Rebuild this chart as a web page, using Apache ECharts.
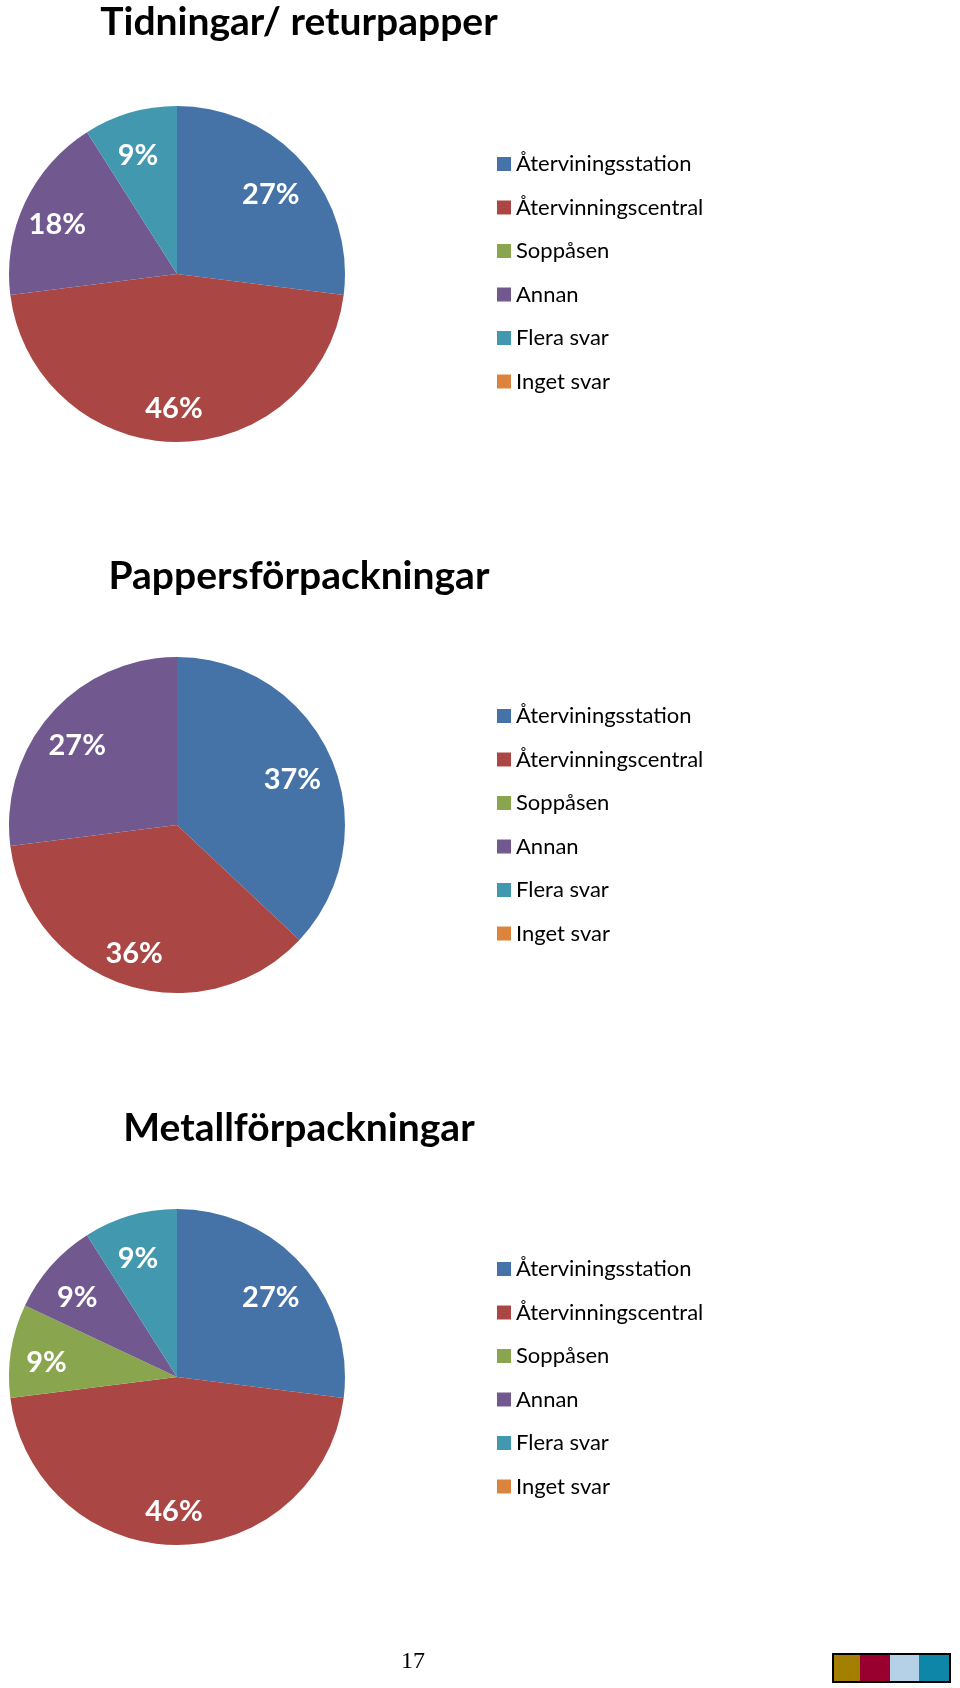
<!DOCTYPE html>
<html lang="sv">
<head>
	<meta charset="UTF-8">
	<title>Tidningar, pappers- och metallförpackningar</title>
	<style>
		html, body { margin: 0; padding: 0; background: #fff; }
	</style>
</head>
<body>
	<div id="main" style="width: 960px;height:1688px;"></div>
</body>
<script type="text/javascript" src="https://cdn.jsdelivr.net/npm/echarts@6/dist/echarts.min.js"></script>
<script type="text/javascript">
	// svarsalternativ (samma i alla tre diagrammen)
	var categories = ['Återviningsstation', 'Återvinningscentral', 'Soppåsen', 'Annan', 'Flera svar', 'Inget svar'];
	var colors = ['#4572A7', '#AA4643', '#89A54E', '#71588F', '#4198AF', '#DB843D'];

	var titles = ['Tidningar/ returpapper', 'Pappersförpackningar', 'Metallförpackningar'];

	// andel i procent, samma ordning som categories
	var tidningar = [27, 46, 0, 18, 9, 0];
	var pappers   = [37, 36, 0, 27, 0, 0];
	var metall    = [27, 46, 9, 9, 9, 0];

	var values = [tidningar, pappers, metall];

	// placering av varje diagram
	var pieCenterY = [274, 825, 1377];
	var titleTop = [3, 557, 1109];
	var legendTop = [153, 705, 1258];

	var myChart = echarts.init(document.getElementById('main'));

	var title = [], legend = [], series = [];

	for (var i = 0; i < values.length; i++) {
		var vals = values[i];

		title.push({
			text: titles[i],
			left: 299,
			top: titleTop[i],
			padding: 0,
			textAlign: 'center',
			textStyle: { fontFamily: 'Lato', fontWeight: 'bold', fontSize: 39, color: '#000' }
		});

		legend.push({
			data: categories,
			orient: 'vertical',
			left: 497,
			top: legendTop[i],
			padding: 0,
			icon: 'rect',
			itemWidth: 14,
			itemHeight: 14,
			itemGap: 21.5,
			selectedMode: false,
			textStyle: { fontFamily: 'Lato', fontSize: 22, lineHeight: 22, color: '#000' }
		});

		// själva tårtan
		series.push({
			type: 'pie',
			center: [177, pieCenterY[i]],
			radius: 168,
			startAngle: 90,
			clockwise: true,
			silent: true,
			animation: false,
			label: { show: false },
			labelLine: { show: false },
			itemStyle: { borderWidth: 0 },
			emphasis: { disabled: true },
			data: categories.map(function (name, j) {
				return { name: name, value: vals[j], itemStyle: { color: colors[j] } };
			})
		});

		// genomskinlig ring bara for etiketterna (hamnar ca 3/4 ut mot kanten)
		series.push({
			type: 'pie',
			center: [177, pieCenterY[i]],
			radius: [84, 168],
			startAngle: 90,
			clockwise: true,
			silent: true,
			animation: false,
			itemStyle: { color: 'rgba(0,0,0,0)', borderWidth: 0 },
			emphasis: { disabled: true },
			labelLine: { show: false },
			label: {
				show: true,
				position: 'inside',
				offset: [-3, 6],
				formatter: function (p) { return p.value ? p.value + '%' : ''; },
				fontFamily: 'Lato',
				fontWeight: 'bold',
				fontSize: 29,
				color: '#fff',
				textBorderWidth: 0
			},
			data: categories.map(function (name, j) {
				return { name: name, value: vals[j] };
			})
		});
	}

	myChart.setOption({
		backgroundColor: '#fff',
		animation: false,
		title: title,
		legend: legend,
		series: series,
		graphic: [
			{ type: 'text', left: 401, top: 1650, style: { text: '17', fontFamily: 'Liberation Serif', fontSize: 24, fill: '#000' } },
			{ type: 'rect', shape: { x: 832, y: 1653, width: 119, height: 30 }, style: { fill: '#000' } },
			{ type: 'rect', shape: { x: 834, y: 1655, width: 26, height: 26 }, style: { fill: '#A37F00' } },
			{ type: 'rect', shape: { x: 860, y: 1655, width: 30, height: 26 }, style: { fill: '#990030' } },
			{ type: 'rect', shape: { x: 890, y: 1655, width: 29, height: 26 }, style: { fill: '#B4D1E8' } },
			{ type: 'rect', shape: { x: 919, y: 1655, width: 30, height: 26 }, style: { fill: '#0E86A8' } }
		]
	});
</script>
</html>
